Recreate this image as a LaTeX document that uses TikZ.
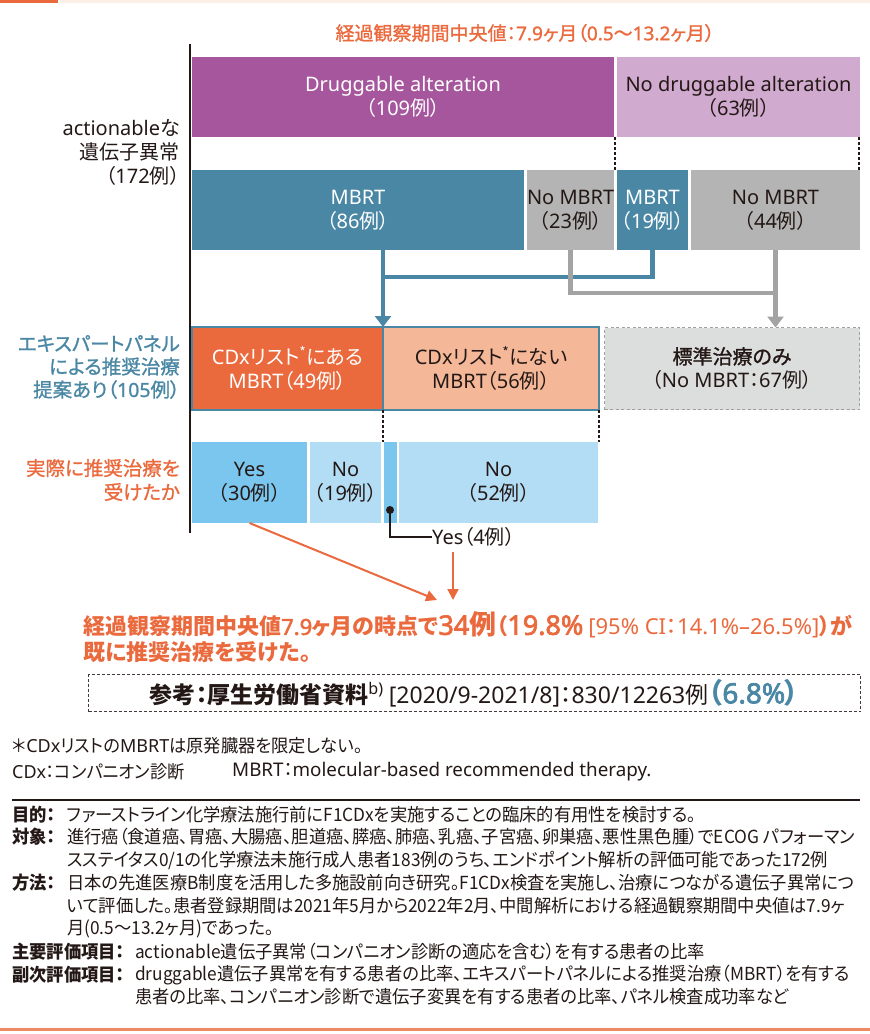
\documentclass[tikz,border=0pt]{standalone}
\usepackage{fontspec}
\usetikzlibrary{arrows.meta,calc}
\setmainfont{Noto Sans CJK JP}[RawFeature=+palt]
\newfontfamily\med{Noto Sans CJK JP}[RawFeature=+palt,FakeBold=1.2]
\newfontfamily\cond{Noto Sans CJK JP}[FakeStretch=0.96,RawFeature=+palt]
\newfontfamily\lat{Noto Sans}
\newfontfamily\latmed{Noto Sans}[FakeBold=1.2]
\newfontfamily\latbf{Noto Sans}[FakeBold=2.6]
\newcommand\lt[1]{{\lat #1}}
\newcommand\ltm[1]{{\latmed #1}}
\newcommand\ltb[1]{{\latbf #1}}
\definecolor{org}{HTML}{EA6A3E}
\definecolor{orgl}{HTML}{EF8A66}
\definecolor{pur}{HTML}{A6569D}
\definecolor{lpur}{HTML}{D0AACF}
\definecolor{mblue}{HTML}{4A87A4}
\definecolor{gry}{HTML}{B4B4B4}
\definecolor{gconn}{HTML}{A3A3A3}
\definecolor{peach}{HTML}{F4B899}
\definecolor{lgry}{HTML}{DCDDDD}
\definecolor{dgry}{HTML}{9FA0A0}
\definecolor{yblue}{HTML}{7BC6EE}
\definecolor{nblue}{HTML}{B2DDF5}
\definecolor{txt}{HTML}{231815}
\definecolor{strip}{HTML}{FCEFE6}
\tikzset{
  box/.style={anchor=north west, inner sep=0pt, outer sep=0pt, align=center,
    font=\fontsize{20}{24}\selectfont, text=txt},
  lbl/.style={anchor=east, inner sep=0pt, align=right, font=\fontsize{19.5}{24}\selectfont},
  sepline/.style={txt, line width=1.2pt, dash pattern=on 3pt off 2pt},
  bconn/.style={mblue, line width=4.5pt},
  gconnst/.style={gconn, line width=4.5pt},
  oarr/.style={org, line width=2pt, -{Triangle[length=11pt,width=11pt]}},
  detail/.style={anchor=west, inner sep=0pt, font=\cond\fontsize{18}{20}\selectfont, text=txt},
  dlabel/.style={anchor=west, inner sep=0pt, font=\cond\bfseries\fontsize{18}{20}\selectfont, text=txt},
  resl/.style={anchor=west, inner sep=0pt, text=org, font=\bfseries\fontsize{22}{24}\selectfont},
}
\begin{document}
\begin{tikzpicture}[x=1pt,y=-1pt]
\useasboundingbox (0,0) rectangle (870,1034);
% top strip
\fill[org] (0,0) rectangle (58,3);
\fill[strip] (60,0) rectangle (870,3);
% title
\node[inner sep=0pt, text=org, font=\med\fontsize{19}{22}\selectfont] (title) at (525,33) {経過観察期間中央値：\ltm{7.9}ヶ月（\ltm{0.5}～\ltm{13.2}ヶ月）};
% axis
\draw[txt, line width=2pt] (190,44) -- (190,533);
% row 1
\node[box, fill=pur, text=white, minimum width=422pt, minimum height=80pt] (drug) at (192,57) {\lt{Druggable alteration}\\（\lt{109}例）};
\node[box, fill=lpur, minimum width=243pt, minimum height=80pt] (nodrug) at (617,57) {\lt{No druggable alteration}\\（\lt{63}例）};
% row 2
\node[box, fill=mblue, text=white, minimum width=332pt, minimum height=80pt] (mbrt1) at (192,170) {\lt{MBRT}\\（\lt{86}例）};
\node[box, fill=gry, minimum width=87pt, minimum height=80pt] (nombrt1) at (527,170) {\lt{No MBRT}\\（\lt{23}例）};
\node[box, fill=mblue, text=white, minimum width=71pt, minimum height=80pt] (mbrt2) at (617,170) {\lt{MBRT}\\（\lt{19}例）};
\node[box, fill=gry, minimum width=169pt, minimum height=80pt] (nombrt2) at (691,170) {\lt{No MBRT}\\（\lt{44}例）};
\draw[sepline] (615,137) -- (615,170);
\draw[sepline] (859,137) -- (859,170);
% row 3
\node[box, fill=org, text=white, minimum width=191pt, minimum height=83pt] (cdxa) at (192,327) {\lt{CDx}リスト\textsuperscript{*}にある\\\lt{MBRT}（\lt{49}例）};
\node[box, fill=peach, minimum width=216pt, minimum height=83pt] (cdxb) at (383,327) {\lt{CDx}リスト\textsuperscript{*}にない\\\lt{MBRT}（\lt{56}例）};
\draw[mblue, line width=2pt] (cdxa.north west) rectangle (cdxb.south east);
\draw[mblue, line width=2pt] (cdxa.north east) -- (cdxa.south east);
\node[box, fill=lgry, draw=dgry, line width=1.8pt, dash pattern=on 3pt off 2.5pt, minimum width=255pt, minimum height=82pt] (std) at (604.5,327.5) {{\med 標準治療のみ}\\（\lt{No MBRT}：\lt{67}例）};
% connectors
\coordinate (bj) at (383,277);
\coordinate (gj) at (775.5,293);
\draw[bconn] (mbrt2.south) |- (bj);
\draw[bconn, -{Triangle[length=11pt,width=16pt]}] (mbrt1.south -| cdxa.north east) -- (cdxa.north east);
\draw[gconnst] (nombrt1.south) |- (gj);
\draw[gconnst, -{Triangle[length=11pt,width=16pt]}] (nombrt2.south) -- (nombrt2.south |- std.north);
% row 4
\node[box, fill=yblue, minimum width=115pt, minimum height=81pt] (yes1) at (192,442) {\lt{Yes}\\（\lt{30}例）};
\node[box, fill=nblue, minimum width=71pt, minimum height=81pt] (no1) at (310,442) {\lt{No}\\（\lt{19}例）};
\node[box, fill=yblue, minimum width=13pt, minimum height=81pt] (yes2) at (384,442) {};
\node[box, fill=nblue, minimum width=199pt, minimum height=81pt] (no2) at (399,442) {\lt{No}\\（\lt{52}例）};
\draw[sepline] (383,410) -- (383,442);
\draw[sepline] (599,410) -- (599,442);
% left labels
\node[lbl, text=txt, font=\fontsize{20}{24}\selectfont] (l1) at (180,152) {\lt{actionable}な\\遺伝子異常\\（\lt{172}例）};
\node[lbl, text=mblue, font=\med\fontsize{19.5}{23}\selectfont] (l2) at (180,367) {エキスパートパネル\\による推奨治療\\提案あり（\ltm{105}例）};
\node[lbl, text=org, font=\med\fontsize{19.5}{24}\selectfont] (l3) at (180,480) {実際に推奨治療を\\受けたか};
% yes 4
\node[anchor=west, inner sep=0pt, text=txt, font=\fontsize{20}{22}\selectfont] (yes4) at (432,537) {\lt{Yes}（\lt{4}例）};
\fill[txt] (390,510) circle (4pt) coordinate (dot);
\draw[txt, line width=1.3pt] (dot) |- (yes4.west);
% orange arrows
\coordinate (t1) at (437,600);
\coordinate (t2) at (453,600);
\draw[oarr] (yes1.south) -- (t1);
\draw[oarr] (t2 |- 0,552) -- (t2);
% result text
\node[resl] (res1) at (83,625)
 {経過観察期間中央値\ltb{7.9}ヶ月の時点で{\fontsize{27}{27}\selectfont\ltb{34}例}（{\fontsize{27}{27}\selectfont\ltb{19.8\%}} {\mdseries\lt{[95\% CI}：\lt{14.1\%–26.5\%]}}）が};
\node[resl] (res2) at (83,652) {既に推奨治療を受けた。};
% reference box
\node[anchor=north west, draw=txt!85, line width=1.2pt, dash pattern=on 3pt off 2pt, minimum width=772pt, minimum height=37pt, inner sep=0pt, text=txt, font=\fontsize{23}{24}\selectfont] (ref) at (88,674)
 {{\bfseries 参考：厚生労働省資料}\textsuperscript{\lt{b)}} \lt{[2020/9-2021/8]}：\lt{830/12263}例{\color{mblue}\bfseries\fontsize{28}{25}\selectfont（\ltb{6.8\%}）}};
% footnotes
\node[detail] (f1) at (12,746) {＊\lt{CDx}リストの\lt{MBRT}は原発臓器を限定しない。};
\node[detail] (f2) at (12,772) {\lt{CDx}：コンパニオン診断};
\node[detail, font=\lat\fontsize{18.8}{20}\selectfont] (f3) at (232,772) {MBRT{\cond ：}molecular-based recommended therapy.};
\draw[txt, line width=1.2pt] (12,800) -- (860,800);
% details
\node[dlabel] (k1) at (12,815) {目的：};
\node[detail] (d1) at (67,815) {ファーストライン化学療法施行前にF1CDxを実施することの臨床的有用性を検討する。};
\node[dlabel] (k2) at (12,837) {対象：};
\node[detail] (d2) at (67,837) {進行癌（食道癌、胃癌、大腸癌、胆道癌、膵癌、肺癌、乳癌、子宮癌、卵巣癌、悪性黒色腫）でECOG パフォーマン};
\node[detail] (d3) at (67,860) {スステイタス0/1の化学療法未施行成人患者183例のうち、エンドポイント解析の評価可能であった172例};
\node[dlabel] (k3) at (12,883) {方法：};
\node[detail] (d4) at (67,883) {日本の先進医療B制度を活用した多施設前向き研究。F1CDx検査を実施し、治療につながる遺伝子異常につ};
\node[detail] (d5) at (67,906) {いて評価した。患者登録期間は2021年5月から2022年2月、中間解析における経過観察期間中央値は7.9ヶ};
\node[detail] (d6) at (67,929) {月(0.5～13.2ヶ月)であった。};
\node[dlabel] (k4) at (12,952) {主要評価項目：};
\node[detail] (d7) at (135,952) {actionable遺伝子異常（コンパニオン診断の適応を含む）を有する患者の比率};
\node[dlabel] (k5) at (12,975) {副次評価項目：};
\node[detail] (d8) at (135,975) {druggable遺伝子異常を有する患者の比率、エキスパートパネルによる推奨治療（MBRT）を有する};
\node[detail] (d9) at (135,997) {患者の比率、コンパニオン診断で遺伝子変異を有する患者の比率、パネル検査成功率など};
% bottom line
\fill[orgl] (0,1028) rectangle (870,1031);
\end{tikzpicture}
\end{document}
